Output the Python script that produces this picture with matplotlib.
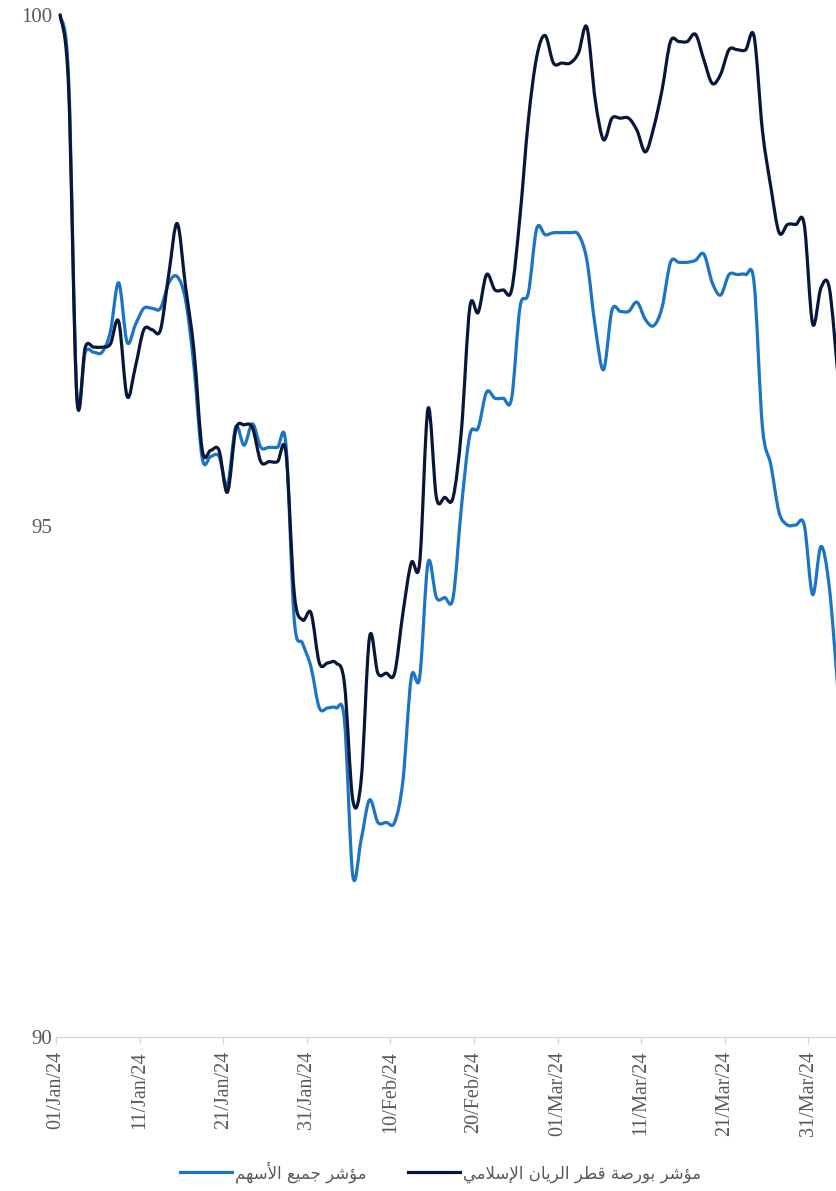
import numpy as np
import pandas as pd
import matplotlib
matplotlib.use("Agg")
import matplotlib.pyplot as plt
from matplotlib.path import Path
from matplotlib.patches import PathPatch
from matplotlib.lines import Line2D
from matplotlib.transforms import ScaledTranslation

# ---------------- data ----------------
dates = pd.date_range("2024-01-01", "2024-04-03", freq="D")

islamic_index = [
    100.00, 99.30, 96.25, 96.75, 96.75, 96.75, 96.78, 97.00, 96.27, 96.56,
    96.92, 96.92, 96.92, 97.47, 97.96, 97.34, 96.72, 95.74, 95.74, 95.74,
    95.33, 95.94, 95.99, 95.96, 95.63, 95.63, 95.63, 95.72, 94.34, 94.08,
    94.15, 93.66, 93.66, 93.66, 93.46, 92.32, 92.51, 93.91, 93.56, 93.56,
    93.56, 94.15, 94.64, 94.64, 96.15, 95.28, 95.28, 95.28, 95.94, 97.14,
    97.09, 97.46, 97.31, 97.31, 97.31, 98.03, 98.97, 99.59, 99.80, 99.53,
    99.53, 99.53, 99.63, 99.88, 99.17, 98.78, 98.99, 98.99, 98.99, 98.87,
    98.66, 98.90, 99.27, 99.74, 99.74, 99.74, 99.81, 99.56, 99.33, 99.42,
    99.66, 99.66, 99.66, 99.79, 98.87, 98.32, 97.87, 97.95, 97.95, 97.95,
    96.98, 97.33, 97.33, 96.50,
]

all_share_index = [
    100.00, 99.40, 96.28, 96.70, 96.70, 96.70, 96.90, 97.38, 96.80, 96.97,
    97.13, 97.13, 97.13, 97.38, 97.44, 97.21, 96.56, 95.66, 95.68, 95.68,
    95.40, 95.97, 95.79, 96.00, 95.77, 95.77, 95.77, 95.80, 94.08, 93.85,
    93.62, 93.22, 93.22, 93.22, 93.10, 91.58, 91.93, 92.32, 92.10, 92.10,
    92.10, 92.51, 93.52, 93.52, 94.64, 94.30, 94.30, 94.30, 95.19, 95.89,
    95.96, 96.31, 96.25, 96.25, 96.25, 97.14, 97.28, 97.91, 97.85, 97.87,
    97.87, 97.87, 97.85, 97.60, 96.95, 96.53, 97.11, 97.10, 97.10, 97.19,
    97.02, 96.96, 97.14, 97.58, 97.58, 97.58, 97.60, 97.66, 97.38, 97.26,
    97.46, 97.46, 97.46, 97.38, 95.97, 95.60, 95.13, 95.01, 95.01, 95.01,
    94.33, 94.80, 94.40, 93.42,
]

tick_dates = pd.date_range("2024-01-01", "2024-03-31", freq="10D")
y_ticks = [90, 95, 100]

label_all = "مؤشر جميع الأسهم"
label_islamic = "مؤشر بورصة قطر الريان الإسلامي"

BLUE = "#1B74C5"
NAVY = "#08163A"
GREY = "#595959"

# ---------------- minimal Arabic shaping ----------------
FORMS = {
    'ا': ('\uFE8D', '\uFE8E', None, None),
    'أ': ('\uFE83', '\uFE84', None, None),
    'إ': ('\uFE87', '\uFE88', None, None),
    'ب': ('\uFE8F', '\uFE90', '\uFE91', '\uFE92'),
    'ة': ('\uFE93', '\uFE94', None, None),
    'ج': ('\uFE9D', '\uFE9E', '\uFE9F', '\uFEA0'),
    'ر': ('\uFEAD', '\uFEAE', None, None),
    'س': ('\uFEB1', '\uFEB2', '\uFEB3', '\uFEB4'),
    'ش': ('\uFEB5', '\uFEB6', '\uFEB7', '\uFEB8'),
    'ص': ('\uFEB9', '\uFEBA', '\uFEBB', '\uFEBC'),
    'ط': ('\uFEC1', '\uFEC2', '\uFEC3', '\uFEC4'),
    'ع': ('\uFEC9', '\uFECA', '\uFECB', '\uFECC'),
    'ق': ('\uFED5', '\uFED6', '\uFED7', '\uFED8'),
    'ل': ('\uFEDD', '\uFEDE', '\uFEDF', '\uFEE0'),
    'م': ('\uFEE1', '\uFEE2', '\uFEE3', '\uFEE4'),
    'ن': ('\uFEE5', '\uFEE6', '\uFEE7', '\uFEE8'),
    'ه': ('\uFEE9', '\uFEEA', '\uFEEB', '\uFEEC'),
    'و': ('\uFEED', '\uFEEE', None, None),
    'ؤ': ('\uFE85', '\uFE86', None, None),
    'ي': ('\uFEF1', '\uFEF2', '\uFEF3', '\uFEF4'),
}
LAMALEF = {'ا': ('\uFEFB', '\uFEFC'), 'أ': ('\uFEF7', '\uFEF8'),
           'إ': ('\uFEF9', '\uFEFA')}


def shape(text):
    tokens = []
    i = 0
    while i < len(text):
        c = text[i]
        if c == 'ل' and i + 1 < len(text) and text[i + 1] in LAMALEF:
            tokens.append(('LA', text[i + 1]))
            i += 2
        else:
            tokens.append(('C', c))
            i += 1

    def joins_next(tok):
        kind, c = tok
        if kind == 'LA':
            return False
        f = FORMS.get(c)
        return f is not None and f[2] is not None

    def joinable(tok):
        kind, c = tok
        return kind == 'LA' or c in FORMS

    res = []
    for j, tok in enumerate(tokens):
        kind, c = tok
        pj = j > 0 and joins_next(tokens[j - 1]) and joinable(tok)
        nj = j + 1 < len(tokens) and joins_next(tok) and joinable(tokens[j + 1])
        if kind == 'LA':
            res.append(LAMALEF[c][1 if pj else 0])
        elif c in FORMS:
            f = FORMS[c]
            if pj and nj:
                res.append(f[3])
            elif pj:
                res.append(f[1])
            elif nj:
                res.append(f[2])
            else:
                res.append(f[0])
        else:
            res.append(c)
    return ''.join(reversed(res))


# ---------------- smoothed line (Excel-style bezier) ----------------
def smooth_path(x, y):
    x = np.asarray(x, float)
    y = np.asarray(y, float)
    n = len(x)
    verts = [(x[0], y[0])]
    codes = [Path.MOVETO]
    for i in range(n - 1):
        i0 = max(i - 1, 0)
        i3 = min(i + 2, n - 1)
        c1 = (x[i] + (x[i + 1] - x[i0]) / 6.0, y[i] + (y[i + 1] - y[i0]) / 6.0)
        c2 = (x[i + 1] - (x[i3] - x[i]) / 6.0, y[i + 1] - (y[i3] - y[i]) / 6.0)
        verts += [c1, c2, (x[i + 1], y[i + 1])]
        codes += [Path.CURVE4] * 3
    return Path(verts, codes)


# ---------------- figure ----------------
fig = plt.figure(figsize=(8.36, 11.91), dpi=100)
ax = fig.add_axes([56 / 836, (1191 - 1037) / 1191, (836 - 56) / 836, (1037 - 15) / 1191])

start = dates[0]
xpos = np.array([(d - start).days for d in dates]) + 0.5

for vals, col in [(all_share_index, BLUE), (islamic_index, NAVY)]:
    patch = PathPatch(smooth_path(xpos, vals), facecolor="none", edgecolor=col,
                      lw=2.3, capstyle="round", joinstyle="round", clip_on=False)
    ax.add_patch(patch)

ax.set_xlim(0, 93.3)
ax.set_ylim(90, 100)

ticks_x = [(d - start).days for d in tick_dates]
ax.set_xticks(ticks_x)
ax.set_xticklabels([d.strftime("%d/%b/%y") for d in tick_dates], rotation=90,
                   fontfamily="Liberation Serif", fontsize=14.5, color=GREY)
offset = ScaledTranslation(4 / 100, 0, fig.dpi_scale_trans)
for lbl in ax.get_xticklabels():
    lbl.set_transform(lbl.get_transform() + offset)
ax.set_yticks(y_ticks)
ax.set_yticklabels([str(v) for v in y_ticks], fontfamily="Liberation Serif",
                   fontsize=15, color=GREY)

for s in ["top", "right", "left"]:
    ax.spines[s].set_visible(False)
ax.spines["bottom"].set_color("#D9D9D9")
ax.spines["bottom"].set_linewidth(1.0)
ax.tick_params(axis="x", colors="#D9D9D9", length=5, width=1, pad=5, labelcolor=GREY)
ax.tick_params(axis="y", length=0, pad=3, labelcolor=GREY)

handles = [Line2D([], [], color=BLUE, lw=2.3), Line2D([], [], color=NAVY, lw=2.3)]
labels = [shape(label_all), shape(label_islamic)]
leg = fig.legend(handles, labels, loc="center", ncol=2, frameon=False,
                 bbox_to_anchor=(0.527, 1 - 1172 / 1191),
                 prop={"family": ["DejaVu Sans"], "size": 12},
                 handlelength=3.1, handletextpad=0.2, columnspacing=2.5)
for t in leg.get_texts():
    t.set_color(GREY)

fig.savefig("out.png", dpi=100)
